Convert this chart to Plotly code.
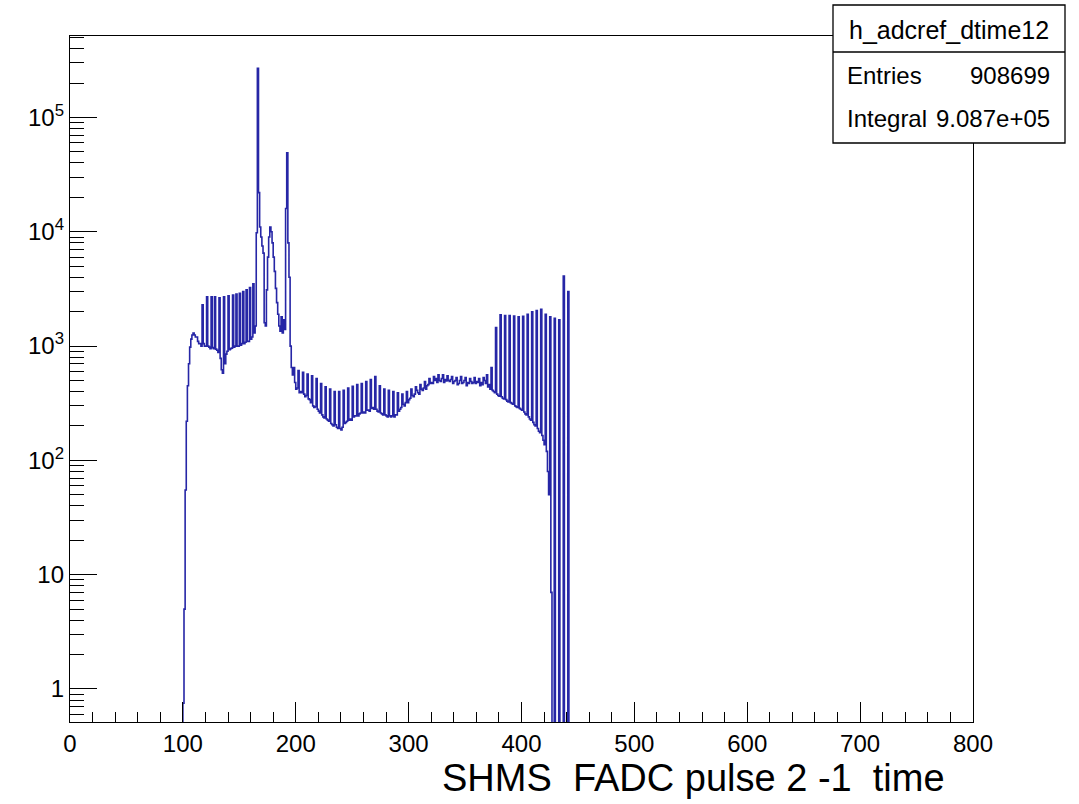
import plotly.graph_objects as go

# ---------------- data ----------------
bin_start = 100          # first non-empty bin (bin width = 1)
bin_width = 1

counts_100_199 = [
    0.75, 5, 55, 220, 450, 700, 980, 1150, 1250, 1300,
    1250, 1200, 1200, 1100, 1050, 1050, 1000, 2300, 1050, 1000,
    1000, 2700, 1000, 980, 950, 2700, 970, 950, 2700, 940,
    920, 880, 2650, 780, 620, 580, 2700, 700, 850, 900,
    2750, 930, 950, 960, 2800, 980, 1000, 2850, 1000, 1000,
    2900, 1020, 1050, 3000, 1050, 1080, 3100, 1100, 1100, 3250,
    1150, 1200, 3500, 1300, 1500, 9800, 270000, 22000, 11000, 9000,
    7500, 6500, 1600, 1500, 3100, 6000, 9000, 11000, 10000, 8000,
    6000, 4500, 3200, 2400, 1900, 1500, 1350, 1800, 1300, 1700,
    1400, 16000, 49000, 8000, 4000, 1000, 650, 560, 650, 480,
]
counts_200_299 = [
    420, 430, 610, 390, 400, 390, 590, 380, 360, 370,
    570, 345, 340, 320, 550, 300, 290, 295, 520, 280,
    270, 260, 470, 250, 240, 235, 440, 230, 225, 220,
    420, 210, 205, 200, 400, 205, 195, 190, 400, 190,
    185, 195, 410, 210, 215, 220, 430, 225, 230, 225,
    445, 240, 245, 245, 460, 245, 255, 260, 470, 260,
    265, 260, 490, 275, 275, 270, 510, 285, 290, 280,
    540, 280, 270, 265, 450, 260, 255, 250, 420, 250,
    245, 240, 410, 245, 240, 245, 400, 240, 250, 250,
    390, 270, 280, 290, 380, 310, 300, 320, 400, 320,
]
counts_300_399 = [
    340, 350, 420, 370, 360, 380, 440, 410, 390, 380,
    460, 420, 410, 430, 490, 420, 450, 460, 520, 470,
    480, 470, 540, 500, 520, 480, 560, 500, 490, 520,
    560, 480, 510, 495, 550, 500, 490, 510, 540, 470,
    490, 500, 530, 460, 470, 500, 540, 470, 480, 500,
    530, 450, 480, 470, 520, 490, 470, 480, 530, 470,
    490, 480, 520, 450, 480, 460, 530, 500, 470, 560,
    440, 460, 420, 650, 410, 400, 390, 1450, 380, 370,
    365, 1880, 360, 350, 345, 1850, 340, 330, 325, 1850,
    320, 315, 310, 1830, 300, 295, 290, 1800, 285, 280,
]
counts_400_442 = [
    275, 1820, 265, 255, 250, 1900, 240, 230, 225, 2000,
    215, 205, 200, 2050, 190, 180, 175, 2100, 165, 150,
    137, 1900, 120, 80, 50, 1800, 7, 0, 0, 1750,
    0, 0, 0, 1700, 0, 0, 0, 4100, 0, 0,
    0, 3000, 0,
]

x_ticks = [0, 100, 200, 300, 400, 500, 600, 700, 800]
y_ticks = [1, 10, 100, 1000, 10000, 100000]
y_ticktext = ["1", "10", "10<sup>2</sup>", "10<sup>3</sup>", "10<sup>4</sup>", "10<sup>5</sup>"]

hist_name = "h_adcref_dtime12"
entries_text = "908699"
integral_text = "9.087e+05"
x_title = "SHMS  FADC pulse 2 -1  time"

# ---------------- build step outline ----------------
counts = counts_100_199 + counts_200_299 + counts_300_399 + counts_400_442
floor = 1e-2  # empty bins drawn below the visible log range (as ROOT does)
xs = [bin_start - bin_width] + [bin_start + i * bin_width for i in range(len(counts))] \
     + [bin_start + len(counts) * bin_width]
ys = [floor] + [c if c > 0 else floor for c in counts] + [floor]

FONT = "Liberation Sans, Arial, Helvetica, sans-serif"
LINE = "#2626a6"

fig = go.Figure()
fig.add_trace(go.Scatter(
    x=xs, y=ys, mode="lines", line=dict(color=LINE, width=1.6, shape="hv"),
    hoverinfo="skip", showlegend=False,
))

L, R, T, B = 70, 106, 36, 82
W, H = 1079, 804
pw, ph = W - L - R, H - T - B

def px(xp):
    return (xp - L) / pw

def py(yp):
    return (H - B - yp) / ph

fig.update_layout(
    width=W, height=H,
    margin=dict(l=L, r=R, t=T, b=B),
    paper_bgcolor="white", plot_bgcolor="white",
    font=dict(family=FONT, color="black", size=24),
    xaxis=dict(
        range=[0, 800], tickvals=x_ticks, ticks="inside", ticklen=20, tickwidth=1,
        tickcolor="black", showline=True, linecolor="black", linewidth=1.3,
        mirror=True, showgrid=False, zeroline=False,
        tickfont=dict(family=FONT, size=24, color="black"),
        minor=dict(dtick=20, ticks="inside", ticklen=10, tickcolor="black", showgrid=False),
    ),
    yaxis=dict(
        type="log", range=[-0.289, 5.713], tickvals=y_ticks, ticktext=y_ticktext,
        ticks="inside", ticklen=27, tickwidth=1, tickcolor="black",
        showline=True, linecolor="black", linewidth=1.3, mirror=True,
        showgrid=False, zeroline=False,
        tickfont=dict(family=FONT, size=24, color="black"),
        minor=dict(dtick="D1", ticks="inside", ticklen=14, tickcolor="black", showgrid=False),
    ),
)

# axis title (right aligned, ROOT style)
fig.add_annotation(
    text=x_title, xref="paper", yref="paper", x=px(947), y=py(778),
    xanchor="right", yanchor="middle", showarrow=False,
    font=dict(family=FONT, size=38, color="black"),
)

# stats box
bx0, bx1, by_top, by_sep, by_bot = 833, 1065, 5, 52, 143
fig.add_shape(type="rect", xref="paper", yref="paper",
              x0=px(bx0), x1=px(bx1), y0=py(by_bot), y1=py(by_top),
              line=dict(color="black", width=1.3), fillcolor="white", layer="above")
fig.add_shape(type="line", xref="paper", yref="paper",
              x0=px(bx0), x1=px(bx1), y0=py(by_sep), y1=py(by_sep),
              line=dict(color="black", width=1.3), layer="above")
fig.add_annotation(text=hist_name, xref="paper", yref="paper",
                   x=px((bx0 + bx1) / 2), y=py(30), xanchor="center", yanchor="middle",
                   showarrow=False, font=dict(family=FONT, size=25, color="black"))
for label, value, yc in [("Entries", entries_text, 76), ("Integral", integral_text, 119)]:
    fig.add_annotation(text=label, xref="paper", yref="paper",
                       x=px(845), y=py(yc), xanchor="left", yanchor="middle",
                       showarrow=False, font=dict(family=FONT, size=24, color="black"))
    fig.add_annotation(text=value, xref="paper", yref="paper",
                       x=px(1052), y=py(yc), xanchor="right", yanchor="middle",
                       showarrow=False, font=dict(family=FONT, size=24, color="black"))

fig.write_html("out.html", config={"displayModeBar": False},
               post_script="document.body.style.margin='0px';")
